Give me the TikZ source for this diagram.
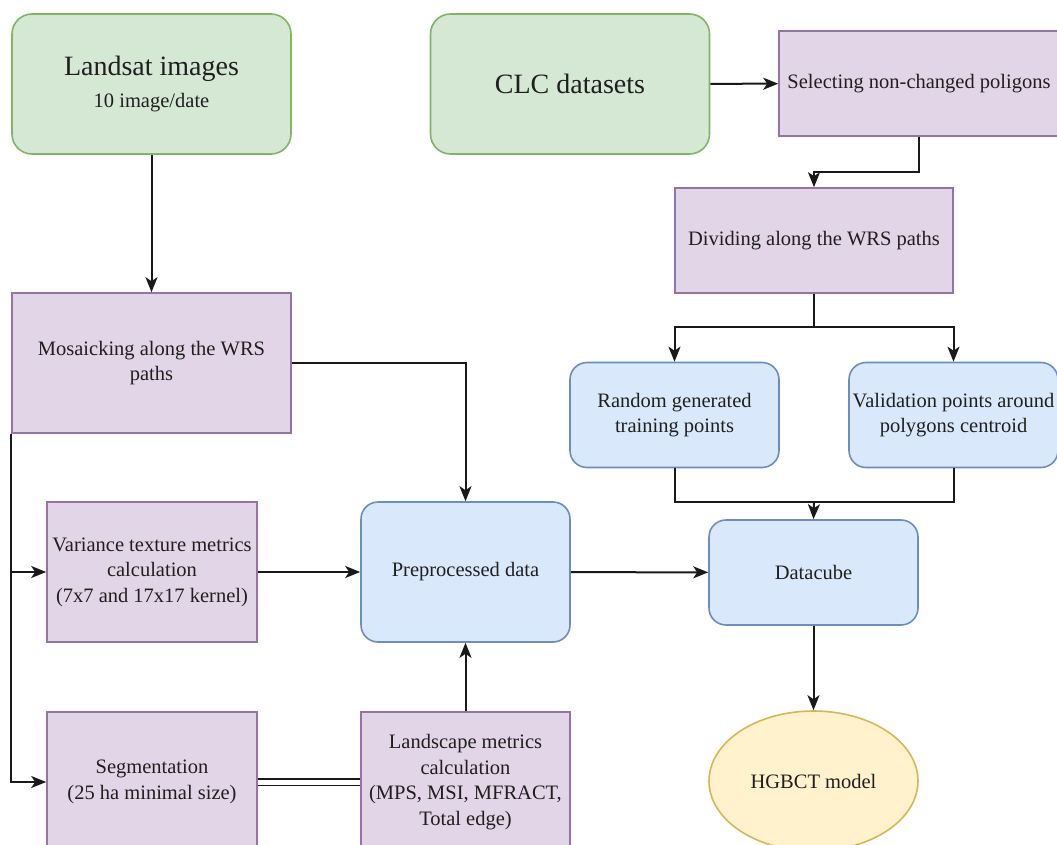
\documentclass[tikz,border=0pt]{standalone}
\usepackage{fontspec}
\setmainfont{Liberation Serif}
\usetikzlibrary{arrows.meta,shapes.geometric}
\definecolor{greenfill}{HTML}{D5E8D4}
\definecolor{greenline}{HTML}{82B366}
\definecolor{purplefill}{HTML}{E1D5E7}
\definecolor{purpleline}{HTML}{9673A6}
\definecolor{bluefill}{HTML}{DAE8FC}
\definecolor{blueline}{HTML}{6C8EBF}
\definecolor{yellowfill}{HTML}{FFF2CC}
\definecolor{yellowline}{HTML}{D6B656}
\begin{document}
\begin{tikzpicture}[
    x=1pt, y=-1pt,
    every node/.style={font=\fontsize{20.5}{25.5}\selectfont, align=center, inner sep=0pt, text=black!88},
    source/.style={draw=greenline, fill=greenfill, line width=1.6pt, rounded corners=20pt, minimum width=279pt, minimum height=140pt},
    process/.style={draw=purpleline, fill=purplefill, line width=1.6pt, minimum height=105pt},
    data/.style={draw=blueline, fill=bluefill, line width=1.6pt, rounded corners=17pt, minimum width=209pt, minimum height=105pt},
    model/.style={ellipse, draw=yellowline, fill=yellowfill, line width=1.6pt, minimum width=209pt, minimum height=140pt},
    link/.style={line width=2pt, black!90},
    >={Stealth[length=15pt, width=12pt, inset=4pt]}
]
\useasboundingbox (0,0) rectangle (1057,845);
\clip (0,0) rectangle (1057,845);

\node[source] (landsat) at (151.5,84) {{\fontsize{28}{36}\selectfont Landsat images}\\[7pt]10 image/date};
\node[source] (clc) at (570,84) {\fontsize{28}{34}\selectfont CLC datasets};
\node[process, minimum width=280pt] (select) at (919,83.5) {Selecting non-changed poligons};
\node[process, minimum width=278pt] (divide) at (814,240.5) {Dividing along the WRS paths};
\node[process, minimum width=279pt, minimum height=140pt] (mosaic) at (151.5,363) {Mosaicking along the WRS\\paths};
\node[data] (random) at (674.5,415) {Random generated\\training points};
\node[data] (valid) at (953.5,415) {Validation points around\\polygons centroid};
\node[process, minimum width=210pt, minimum height=140pt] (variance) at (152,572) {Variance texture metrics\\calculation\\(7x7 and 17x17 kernel)};
\node[data, minimum height=140pt] (prep) at (465.5,572) {Preprocessed data};
\node[data] (cube) at (813.5,572.5) {Datacube};
\node[process, minimum width=210pt, minimum height=140pt] (segment) at (152,782) {Segmentation\\(25 ha minimal size)};
\node[process, minimum width=209pt, minimum height=140pt] (landscape) at (465.5,782) {Landscape metrics\\calculation\\(MPS, MSI, MFRACT,\\Total edge)};
\node[model] (hgbct) at (813.5,781) {HGBCT model};

\draw[link, ->] (landsat) -- (mosaic);
\draw[link, ->] (clc) -- (select);
\draw[link, ->] (select.south) |- (814,172) -- (divide.north);
\draw[link, ->] (divide.south) -- (814,327) -| (random.north);
\draw[link, ->] (divide.south) -- (814,327) -| (valid.north);
\draw[link] (random.south) |- (814,502);
\draw[link] (valid.south) |- (814,502);
\draw[link, ->] (814,502) -- (cube.north);
\draw[link, ->] (mosaic.east) -| (prep.north);
\draw[link, ->] (mosaic.south west) |- (variance.west);
\draw[link, ->] (mosaic.south west) |- (segment.west);
\draw[link, ->] (variance) -- (prep);
\draw[link, ->] (prep) -- (cube);
\draw[link, ->] (landscape) -- (prep);
\draw[line width=1.4pt, black!90, double, double distance=5pt] (segment) -- (landscape);
\draw[link, ->] (cube) -- (hgbct);
\end{tikzpicture}
\end{document}
